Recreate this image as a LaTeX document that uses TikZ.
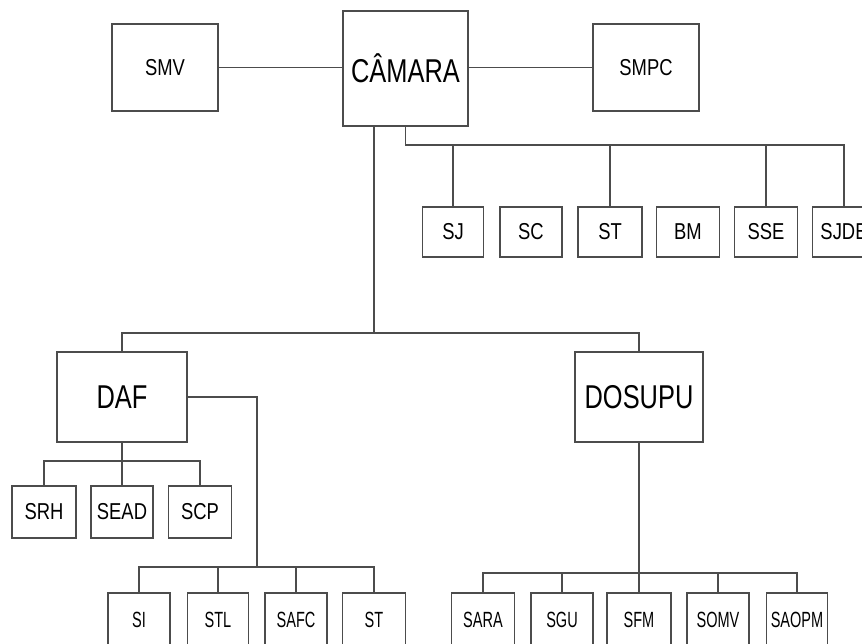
\documentclass[tikz,border=0pt]{standalone}
\usepackage{fontspec}
\setmainfont{Liberation Sans}
\newfontfamily\bigfont[FakeStretch=0.77]{Liberation Sans}
\newfontfamily\midfont[FakeStretch=0.8]{Liberation Sans}
\newfontfamily\lowfont[FakeStretch=0.66]{Liberation Sans}
\tikzset{
  box/.style={draw=black!70, line width=1.2pt, inner sep=0pt, fill=white},
  bigbox/.style={box, font=\bigfont\fontsize{33}{36}\selectfont},
  midbox/.style={box, font=\midfont\fontsize{23}{26}\selectfont},
  lowbox/.style={box, font=\lowfont\fontsize{22}{25}\selectfont},
  conn/.style={draw=black!70, line width=1.2pt}
}
\begin{document}
\begin{tikzpicture}[x=1pt, y=-1pt]
                \useasboundingbox (0,0) rectangle (862,644);
                \clip (0,0) rectangle (862,644);

                % Topo
                \node[bigbox, minimum width=125pt, minimum height=115pt] (camara) at (405.5,68.5) {CÂMARA};
                \node[midbox, minimum width=106pt, minimum height=87pt] (smv) at (165,67.5) {SMV};
                \node[midbox, minimum width=106pt, minimum height=87pt] (smpc) at (646,67.5) {SMPC};
                \draw[conn] (smv.east) -- (smv.east -| camara.west);
                \draw[conn] (camara.east |- smpc.west) -- (smpc.west);

                % Secretarias ligadas a camara
                \node[midbox, minimum width=61pt, minimum height=50pt] (sj) at (453,232) {SJ};
                \node[midbox, minimum width=62pt, minimum height=50pt] (sc) at (531,232) {SC};
                \node[midbox, minimum width=64pt, minimum height=50pt] (stc) at (610,232) {ST};
                \node[midbox, minimum width=63pt, minimum height=50pt] (bm) at (688,232) {BM};
                \node[midbox, minimum width=63pt, minimum height=50pt] (sse) at (766,232) {SSE};
                \node[midbox, minimum width=63pt, minimum height=50pt] (sjde) at (844,232) {SJDE};
                \coordinate (topbus) at (0,145);
                \draw[conn] (camara.south) |- (sjde.north |- topbus) -- (sjde.north);
                \foreach \n in {sj,stc,sse}
                    \draw[conn] (\n.north |- topbus) -- (\n.north);

                % Diretorias
                \node[bigbox, minimum width=130pt, minimum height=90pt] (daf) at (122,397) {DAF};
                \node[bigbox, minimum width=128pt, minimum height=90pt] (dosupu) at (639,397) {DOSUPU};
                \coordinate (trunk) at (374,333);
                \draw[conn] (camara.south -| trunk) -- (trunk);
                \draw[conn] (daf.north) |- (trunk) -| (dosupu.north);

                % DAF
                \node[midbox, minimum width=64pt, minimum height=52pt] (srh) at (44,512) {SRH};
                \node[midbox, minimum width=62pt, minimum height=52pt] (sead) at (122,512) {SEAD};
                \node[midbox, minimum width=63pt, minimum height=52pt] (scp) at (200,512) {SCP};
                \coordinate (dafbus) at (0,461);
                \draw[conn] (daf.south) -- (sead.north);
                \draw[conn] (srh.north) |- (scp.north |- dafbus) -- (scp.north);

                \node[lowbox, minimum width=62pt, minimum height=53pt] (si) at (139,619.5) {SI};
                \node[lowbox, minimum width=61pt, minimum height=53pt] (stl) at (218,619.5) {STL};
                \node[lowbox, minimum width=62pt, minimum height=53pt] (safc) at (296,619.5) {SAFC};
                \node[lowbox, minimum width=63pt, minimum height=53pt] (stb) at (374,619.5) {ST};
                \coordinate (dafside) at (257,567);
                \draw[conn] (daf.east) -| (dafside);
                \draw[conn] (si.north) |- (stb.north |- dafside) -- (stb.north);
                \foreach \n in {stl,safc}
                    \draw[conn] (\n.north |- dafside) -- (\n.north);

                % DOSUPU
                \node[lowbox, minimum width=63pt, minimum height=53pt] (sara) at (483,619.5) {SARA};
                \node[lowbox, minimum width=62pt, minimum height=53pt] (sgu) at (562,619.5) {SGU};
                \node[lowbox, minimum width=64pt, minimum height=53pt] (sfm) at (639,619.5) {SFM};
                \node[lowbox, minimum width=62pt, minimum height=53pt] (somv) at (718,619.5) {SOMV};
                \node[lowbox, minimum width=61pt, minimum height=53pt] (saopm) at (797,619.5) {SAOPM};
                \coordinate (dosbus) at (0,573);
                \draw[conn] (dosupu.south) -- (sfm.north);
                \draw[conn] (sara.north) |- (saopm.north |- dosbus) -- (saopm.north);
                \foreach \n in {sgu,somv}
                    \draw[conn] (\n.north |- dosbus) -- (\n.north);

            \end{tikzpicture}
\end{document}
